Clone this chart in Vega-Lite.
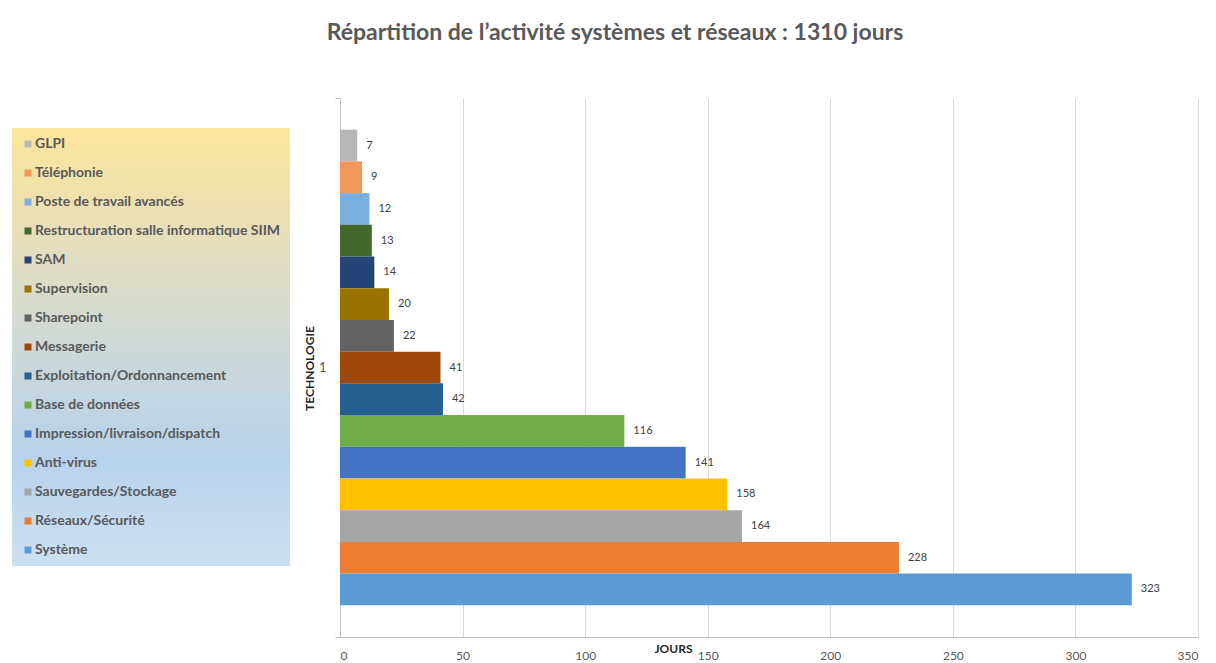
{
  "$schema": "https://vega.github.io/schema/vega-lite/v6.json",
  "width": 858,
  "height": 539,
  "autosize": {"type": "none"},
  "padding": {"left": 340, "top": 98, "right": 18, "bottom": 26},
  "background": "white",
  "title": {
    "text": "Répartition de l’activité systèmes et réseaux : 1310 jours",
    "font": "Lato",
    "fontSize": 23,
    "fontWeight": "bold",
    "color": "#595959",
    "anchor": "middle",
    "dx": -154,
    "offset": 47
  },
  "config": {"view": {"stroke": null}, "font": "Lato"},
  "data": {
    "values": [
      {"cat": "1", "tech": "GLPI", "jours": 7},
      {"cat": "1", "tech": "Téléphonie", "jours": 9},
      {"cat": "1", "tech": "Poste de travail avancés", "jours": 12},
      {"cat": "1", "tech": "Restructuration salle informatique SIIM", "jours": 13},
      {"cat": "1", "tech": "SAM", "jours": 14},
      {"cat": "1", "tech": "Supervision", "jours": 20},
      {"cat": "1", "tech": "Sharepoint", "jours": 22},
      {"cat": "1", "tech": "Messagerie", "jours": 41},
      {"cat": "1", "tech": "Exploitation/Ordonnancement", "jours": 42},
      {"cat": "1", "tech": "Base de données", "jours": 116},
      {"cat": "1", "tech": "Impression/livraison/dispatch", "jours": 141},
      {"cat": "1", "tech": "Anti-virus", "jours": 158},
      {"cat": "1", "tech": "Sauvegardes/Stockage", "jours": 164},
      {"cat": "1", "tech": "Réseaux/Sécurité", "jours": 228},
      {"cat": "1", "tech": "Système", "jours": 323}
    ]
  },
  "encoding": {
    "y": {
      "field": "cat",
      "type": "nominal",
      "scale": {"paddingInner": 0, "paddingOuter": 0},
      "axis": {
        "title": "TECHNOLOGIE",
        "titleFont": "Lato",
        "titleFontSize": 12,
        "titleFontWeight": "bold",
        "titleColor": "#262626",
        "titleAngle": -90,
        "titleX": -31,
        "titleY": 270,
        "titleAlign": "center",
        "titleBaseline": "middle",
        "labelAngle": 0,
        "labelFont": "Lato",
        "labelFontSize": 13,
        "labelColor": "#595959",
        "labelPadding": 9,
        "ticks": true,
        "tickBand": "extent",
        "tickSize": 5,
        "tickColor": "#bfbfbf",
        "domainColor": "#bfbfbf",
        "grid": false
      }
    },
    "yOffset": {
      "field": "tech",
      "type": "nominal",
      "sort": ["GLPI", "Téléphonie", "Poste de travail avancés", "Restructuration salle informatique SIIM", "SAM", "Supervision", "Sharepoint", "Messagerie", "Exploitation/Ordonnancement", "Base de données", "Impression/livraison/dispatch", "Anti-virus", "Sauvegardes/Stockage", "Réseaux/Sécurité", "Système"],
      "scale": {"paddingInner": 0, "paddingOuter": 1.064}
    },
    "x": {
      "field": "jours",
      "type": "quantitative",
      "scale": {"domain": [0, 350], "nice": false},
      "axis": {
        "values": [0, 50, 100, 150, 200, 250, 300, 350],
        "title": "JOURS",
        "titleFont": "Lato",
        "titleFontSize": 12,
        "titleFontWeight": "bold",
        "titleColor": "#262626",
        "titleX": 333,
        "titleY": 11,
        "titleAlign": "center",
        "titleBaseline": "middle",
        "labelFont": "Lato",
        "labelFontSize": 12,
        "labelColor": "#595959",
        "labelPadding": 13,
        "ticks": false,
        "tickSize": 0,
        "domainColor": "#bfbfbf",
        "grid": true,
        "gridColor": "#d9d9d9"
      }
    }
  },
  "layer": [
    {
      "mark": {"type": "bar"},
      "encoding": {
        "color": {
          "field": "tech",
          "type": "nominal",
          "scale": {
            "domain": ["GLPI", "Téléphonie", "Poste de travail avancés", "Restructuration salle informatique SIIM", "SAM", "Supervision", "Sharepoint", "Messagerie", "Exploitation/Ordonnancement", "Base de données", "Impression/livraison/dispatch", "Anti-virus", "Sauvegardes/Stockage", "Réseaux/Sécurité", "Système"],
            "range": ["#b7b7b7", "#f1975a", "#7cafdd", "#43682b", "#264478", "#997300", "#636363", "#9e480e", "#255e91", "#70ad47", "#4472c4", "#ffc000", "#a5a5a5", "#ed7d31", "#5b9bd5"]
          },
          "legend": {
            "orient": "none",
            "legendX": -328,
            "legendY": 30,
            "title": null,
            "symbolType": "square",
            "symbolSize": 49,
            "symbolStrokeWidth": 0,
            "labelFont": "Lato",
            "labelFontSize": 14,
            "labelFontWeight": "bold",
            "labelColor": "#595959",
            "labelOffset": 0,
            "labelLimit": 300,
            "rowPadding": 15,
            "padding": 9,
            "fillColor": "#d6dcd4",
            "encoding": {
              "legend": {
                "fill": {
                  "value": {
                    "gradient": "linear",
                    "x1": 0, "y1": 0, "x2": 0, "y2": 1,
                    "stops": [
                      {"offset": 0, "color": "#fde59b"},
                      {"offset": 0.45, "color": "#d3dad3"},
                      {"offset": 0.75, "color": "#b6d2ec"},
                      {"offset": 1, "color": "#cde0f2"}
                    ]
                  }
                }
              }
            }
          }
        }
      }
    },
    {
      "mark": {"type": "text", "align": "left", "baseline": "middle", "dx": 9, "fontSize": 11, "color": "#404040", "font": "Lato"},
      "encoding": {"text": {"field": "jours", "type": "quantitative"}}
    }
  ]
}
